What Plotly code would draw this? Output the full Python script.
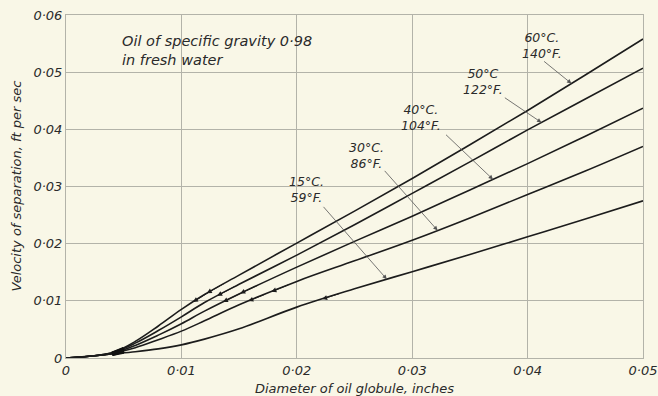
import plotly.graph_objects as go

# ---- data ----
diameter = [0, 0.002, 0.004, 0.006, 0.008, 0.010, 0.012, 0.015, 0.020, 0.025, 0.030, 0.035, 0.040, 0.045, 0.050]
v_60C = [0, 0.0003, 0.0009, 0.0029, 0.0056, 0.0085, 0.0111, 0.0145, 0.0201, 0.0257, 0.0314, 0.0373, 0.0433, 0.0495, 0.0558]
v_50C = [0, 0.0003, 0.0009, 0.0026, 0.0048, 0.0072, 0.0097, 0.0129, 0.0180, 0.0233, 0.0288, 0.0343, 0.0399, 0.0453, 0.0507]
v_40C = [0, 0.0003, 0.0008, 0.0022, 0.0040, 0.0060, 0.0082, 0.0112, 0.0159, 0.0204, 0.0248, 0.0294, 0.0340, 0.0388, 0.0437]
v_30C = [0, 0.0003, 0.0008, 0.0018, 0.0032, 0.0047, 0.0065, 0.0093, 0.0134, 0.0170, 0.0206, 0.0245, 0.0286, 0.0327, 0.0370]
v_15C = [0, 0.0003, 0.0007, 0.0011, 0.0016, 0.0023, 0.0033, 0.0051, 0.0089, 0.0121, 0.0151, 0.0181, 0.0212, 0.0243, 0.0275]

series = [("60°C", v_60C), ("50°C", v_50C), ("40°C", v_40C), ("30°C", v_30C), ("15°C", v_15C)]

labels = ["60°C.<br>140°F.", "50°C<br>122°F.", "40°C.<br>104°F.", "30°C.<br>86°F.", "15°C.<br>59°F."]
label_xy = [(0.04125, 0.0547), (0.0361, 0.0484), (0.0308, 0.0420), (0.0260, 0.0355), (0.0208, 0.0294)]
leader_tail = [(0.0413, 0.0521), (0.0379, 0.0457), (0.0328, 0.0393), (0.0275, 0.0330), (0.0222, 0.0267)]
leader_tip_x = [0.0438, 0.0412, 0.0370, 0.0322, 0.0278]

# small arrowheads drawn on the curves (series index, x position)
marks = [(0, 0.0110), (0, 0.0122), (1, 0.0131), (2, 0.0136), (2, 0.0151), (3, 0.0158), (3, 0.0178), (4, 0.0222)]

x_ticks = [0, 0.01, 0.02, 0.03, 0.04, 0.05]
x_ticktext = ["0", "0·01", "0·02", "0·03", "0·04", "0·05"]
y_ticks = [0, 0.01, 0.02, 0.03, 0.04, 0.05, 0.06]
y_ticktext = ["0", "0·01", "0·02", "0·03", "0·04", "0·05", "0·06"]


def interp(xs, ys, x):
    for i in range(len(xs) - 1):
        if xs[i] <= x <= xs[i + 1]:
            t = (x - xs[i]) / (xs[i + 1] - xs[i])
            return ys[i] + t * (ys[i + 1] - ys[i])
    return ys[-1]


FONT = "DejaVu Sans"
INK = "#2a2a2a"
GRID = "#b3b3a9"
BG = "#f9f7e7"

fig = go.Figure()
for name, ys in series:
    fig.add_trace(go.Scatter(x=diameter, y=ys, mode="lines", name=name,
                             line=dict(color="#1c1c1c", width=1.6, shape="spline", smoothing=1.0),
                             hoverinfo="skip", showlegend=False))

# dark smear where the curves leave the common start
blob_x = [0.0040, 0.0045, 0.0050]
for _, ys in series[:4]:
    fig.add_trace(go.Scatter(x=blob_x, y=[interp(diameter, ys, bx) * 0.85 for bx in blob_x], mode="lines",
                             line=dict(color="#111111", width=4), hoverinfo="skip", showlegend=False))

annotations = []
for (txt, (tx, ty), (lx, ly), px, (_, ys)) in zip(labels, label_xy, leader_tail, leader_tip_x, series):
    annotations.append(dict(x=tx, y=ty, text=txt, showarrow=False, align="center",
                            font=dict(family=FONT, size=12.5, color=INK, style="italic")))
    annotations.append(dict(x=px, y=interp(diameter, ys, px), ax=lx, ay=ly, axref="x", ayref="y",
                            xref="x", yref="y", text="", showarrow=True, arrowhead=2,
                            arrowsize=1.1, arrowwidth=0.8, arrowcolor="#555555"))

for si, mx in marks:
    ys = series[si][1]
    annotations.append(dict(x=mx, y=interp(diameter, ys, mx), ax=mx + 0.0016,
                            ay=interp(diameter, ys, mx + 0.0016), axref="x", ayref="y",
                            xref="x", yref="y", text="", showarrow=True, arrowhead=2,
                            arrowsize=1.0, arrowwidth=1.0, arrowcolor="#1c1c1c"))

annotations.append(dict(x=0.0047, y=0.0572, xanchor="left", yanchor="top", align="left",
                        text="Oil of specific gravity 0·98<br>in fresh water", showarrow=False,
                        font=dict(family=FONT, size=14.5, color=INK, style="italic")))

# axis titles
annotations.append(dict(x=0.5, y=0, xref="paper", yref="paper", yanchor="middle", yshift=-30,
                        text="Diameter of oil globule, inches", showarrow=False,
                        font=dict(family=FONT, size=13, color=INK, style="italic")))
annotations.append(dict(x=0, y=0.5, xref="paper", yref="paper", xanchor="center", xshift=-50,
                        textangle=-90, text="Velocity of separation, ft per sec", showarrow=False,
                        font=dict(family=FONT, size=13, color=INK, style="italic")))

fig.update_layout(
    width=658, height=396,
    margin=dict(l=66, r=15, t=15, b=38, autoexpand=False),
    paper_bgcolor=BG, plot_bgcolor=BG,
    annotations=annotations,
    xaxis=dict(range=[0, 0.05], tickvals=x_ticks, ticktext=x_ticktext, automargin=False,
               showgrid=True, gridcolor=GRID, gridwidth=1, zeroline=False,
               showline=True, linecolor=GRID, mirror=True, ticks="",
               tickfont=dict(family=FONT, size=13, color=INK, style="italic")),
    yaxis=dict(range=[0, 0.06], tickvals=y_ticks, ticktext=y_ticktext, automargin=False,
               showgrid=True, gridcolor=GRID, gridwidth=1, zeroline=False,
               showline=True, linecolor=GRID, mirror=True, ticks="",
               tickfont=dict(family=FONT, size=13, color=INK, style="italic")),
)

fig.write_html("out.html", config={"displayModeBar": False},
               post_script="document.body.style.margin='0';document.body.style.background='%s';" % BG)
